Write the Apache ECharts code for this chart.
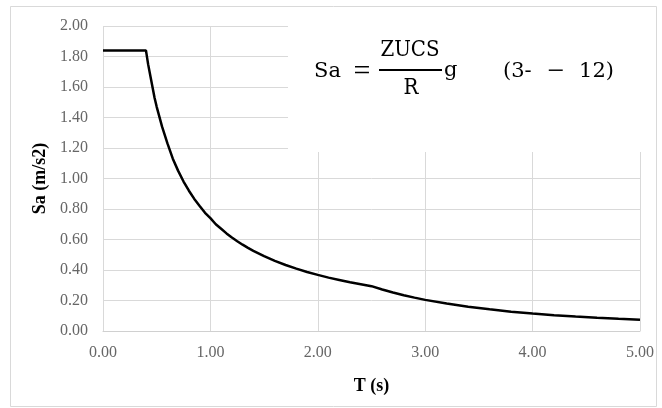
<!DOCTYPE html>
<html>
<head>
<meta charset="utf-8">
<script src="https://cdn.jsdelivr.net/npm/echarts@6/dist/echarts.min.js"></script>
<style>
html,body{margin:0;padding:0;background:#fff;}
#c{width:662px;height:408px;}
</style>
</head>
<body>
<div id="c"></div>
<script>
// Period T (s)
var periods = [0, 0.40, 0.42, 0.45, 0.48, 0.50, 0.55, 0.60, 0.65, 0.70, 0.75, 0.80, 0.85, 0.90, 0.95, 1.00, 1.05, 1.10, 1.15, 1.20, 1.25, 1.30, 1.35, 1.40, 1.50, 1.60, 1.70, 1.80, 1.90, 2.00, 2.10, 2.20, 2.30, 2.40, 2.50, 2.60, 2.70, 2.80, 2.90, 3.00, 3.20, 3.40, 3.60, 3.80, 4.00, 4.20, 4.40, 4.60, 4.80, 5.00];
// Spectral acceleration Sa (m/s2)
var saValues = [1.84, 1.84, 1.75, 1.64, 1.53, 1.47, 1.34, 1.23, 1.13, 1.05, 0.98, 0.92, 0.866, 0.82, 0.775, 0.74, 0.70, 0.67, 0.64, 0.613, 0.589, 0.566, 0.545, 0.526, 0.491, 0.46, 0.433, 0.409, 0.387, 0.368, 0.35, 0.335, 0.32, 0.307, 0.294, 0.272, 0.252, 0.235, 0.219, 0.204, 0.18, 0.159, 0.142, 0.127, 0.115, 0.104, 0.095, 0.087, 0.08, 0.074];
var xTitle = 'T (s)';
var yTitle = 'Sa (m/s2)';

var points = periods.map(function (t, i) { return [t, saValues[i]]; });

var chart = echarts.init(document.getElementById('c'), null, {renderer: 'canvas'});
var serif = 'Liberation Serif';
var condFont = '22px "DejaVu Serif Condensed", "Liberation Serif", serif';
var regFont = '21px "DejaVu Serif", serif';
var symFont = '30px "Liberation Serif", serif';
chart.setOption({
  animation: false,
  backgroundColor: '#ffffff',
  grid: {left: 103, right: 22, top: 26, bottom: 77, containLabel: false},
  xAxis: {
    type: 'value', min: 0, max: 5, interval: 1,
    name: xTitle, nameLocation: 'middle', nameGap: 46,
    nameTextStyle: {fontFamily: serif, fontWeight: 'bold', fontSize: 18, color: '#000'},
    axisLine: {show: true, lineStyle: {color: '#d0d0d0', width: 1}},
    axisTick: {show: false},
    axisLabel: {fontFamily: serif, fontSize: 16, color: '#666666', margin: 14,
      formatter: function (v) { return v.toFixed(2); }},
    splitLine: {show: true, lineStyle: {color: '#d9d9d9', width: 1}}
  },
  yAxis: {
    type: 'value', min: 0, max: 2, interval: 0.2,
    name: yTitle, nameLocation: 'middle', nameGap: 49,
    nameTextStyle: {fontFamily: serif, fontWeight: 'bold', fontSize: 18, color: '#000'},
    axisLine: {show: false},
    axisTick: {show: false},
    axisLabel: {fontFamily: serif, fontSize: 16, color: '#666666', margin: 15,
      formatter: function (v) { return v.toFixed(2); }},
    splitLine: {show: true, lineStyle: {color: '#d9d9d9', width: 1}}
  },
  series: [{
    type: 'line',
    data: points,
    showSymbol: false,
    smooth: false,
    lineStyle: {color: '#000000', width: 2.5},
    z: 3
  }],
  graphic: [
    {type: 'rect', shape: {x: 10.5, y: 6.5, width: 646, height: 400}, style: {fill: 'none', stroke: '#d9d9d9', lineWidth: 1}, z: 0, silent: true},
    {type: 'rect', shape: {x: 288, y: 23, width: 357, height: 129}, style: {fill: '#ffffff', stroke: null}, z: 10, silent: true},
    {type: 'text', x: 314, y: 72, style: {text: 'Sa', font: regFont, fill: '#000', textAlign: 'left', textVerticalAlign: 'middle'}, z: 11},
    {type: 'text', x: 362, y: 72, style: {text: '=', font: symFont, fill: '#000', textAlign: 'center', textVerticalAlign: 'middle'}, z: 11},
    {type: 'text', x: 410, y: 50, style: {text: 'ZUCS', font: condFont, fill: '#000', textAlign: 'center', textVerticalAlign: 'middle'}, z: 11},
    {type: 'line', shape: {x1: 379, y1: 70, x2: 442, y2: 70}, style: {stroke: '#000', lineWidth: 1.8}, z: 11},
    {type: 'text', x: 411, y: 88, style: {text: 'R', font: condFont, fill: '#000', textAlign: 'center', textVerticalAlign: 'middle'}, z: 11},
    {type: 'text', x: 444, y: 71, style: {text: 'g', font: regFont, fill: '#000', textAlign: 'left', textVerticalAlign: 'middle'}, z: 11},
    {type: 'text', x: 503, y: 72, style: {text: '(3-', font: regFont, fill: '#000', textAlign: 'left', textVerticalAlign: 'middle'}, z: 11},
    {type: 'text', x: 556, y: 72, style: {text: '\u2212', font: symFont, fill: '#000', textAlign: 'center', textVerticalAlign: 'middle'}, z: 11},
    {type: 'text', x: 614, y: 72, style: {text: '12)', font: regFont, fill: '#000', textAlign: 'right', textVerticalAlign: 'middle'}, z: 11}
  ]
});
</script>
</body>
</html>
